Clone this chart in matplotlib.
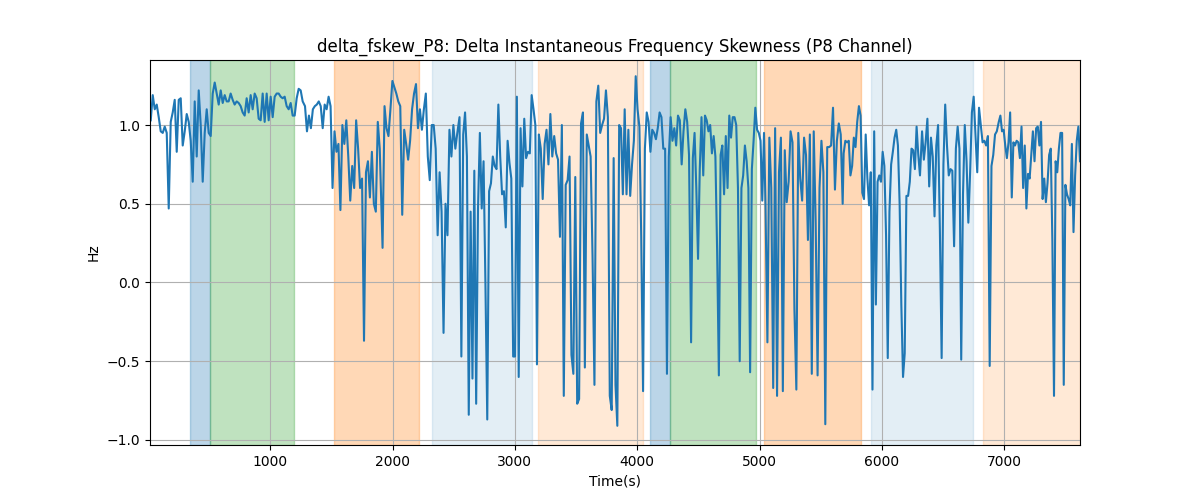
import matplotlib
matplotlib.use("Agg")
import matplotlib.pyplot as plt
import numpy as np

# readings of the trace, one list per stretch of the recording
seg_times = [(23, 644), (660, 1265), (1284, 1895), (1918, 2529), (2547, 3167),
             (3180, 3791), (3807, 4423), (4440, 5036), (5048, 5679), (5687, 6311),
             (6328, 6939), (6955, 7619)]

seg1 = [1.03, 1.19, 1.10, 1.13, 1.05, 0.96, 0.95, 0.99, 0.95, 0.47, 1.02, 1.08, 1.16,
        0.83, 1.16, 1.17, 0.87, 0.96, 1.07, 1.02, 0.90, 0.64, 1.15, 0.80, 1.22, 1.00,
        0.64, 0.95, 1.10, 0.95, 0.93, 1.20, 1.27, 1.20, 1.13, 1.22, 1.14, 1.19, 1.15]
seg2 = [1.15, 1.20, 1.16, 1.13, 1.15, 1.14, 1.12, 1.08, 1.06, 1.17, 1.08, 1.19, 1.10,
        1.20, 1.17, 1.04, 1.03, 1.20, 1.02, 1.20, 1.03, 1.18, 1.05, 1.18, 1.20, 1.20,
        1.18, 1.17, 1.18, 1.12, 1.10, 1.14, 1.06, 1.06, 1.17, 1.23, 1.22, 1.15]
seg3 = [1.12, 0.96, 1.06, 0.98, 1.10, 1.12, 1.13, 1.15, 1.12, 0.98, 1.13, 1.10, 1.18,
        1.12, 0.60, 0.96, 0.83, 0.88, 0.46, 1.00, 0.88, 1.03, 0.80, 0.52, 0.74, 0.60,
        1.03, 0.85, 0.60, 0.66, -0.37, 0.70, 0.77, 0.54, 0.83, 0.50, 0.45, 1.02, 0.85]
seg4 = [0.22, 1.12, 0.98, 0.93, 1.10, 1.28, 1.24, 1.20, 1.15, 1.12, 0.43, 0.97, 0.88,
        0.78, 0.90, 1.10, 1.20, 1.26, 0.98, 1.10, 0.97, 1.10, 1.20, 0.80, 0.65, 1.00,
        1.00, 0.85, 0.30, 0.70, 0.45, -0.32, 0.50, 0.30, 0.97, 0.80, 1.00, 0.85, 0.95]
seg5 = [1.05, -0.47, 0.94, 1.08, 0.80, -0.84, 0.45, -0.61, 0.71, -0.77, 0.47, 0.95,
        0.47, 0.77, 0.00, -0.87, 0.58, 0.63, 0.80, 0.74, 0.72, 1.13, 0.80, 0.56, 0.58,
        0.35, 0.90, 0.76, 0.66, -0.47, -0.47, 1.18, -0.60, 0.98, 0.61, 1.04, 0.79, 0.83,
        0.82, 1.19, 1.10, 1.00]
seg6 = [-0.52, 0.94, 0.85, 0.53, 0.88, 0.97, 0.75, 1.07, 0.80, 0.93, 0.82, 0.78, 0.29,
        1.00, -0.72, 0.62, 0.65, 0.80, -0.46, -0.58, 0.67, -0.77, -0.74, 1.01, 1.08,
        -0.54, 0.94, 0.87, 0.80, 0.17, -0.65, 1.15, 1.25, 0.95, 1.00, 1.04, 1.22, 1.05,
        -0.72, -0.81]
seg7 = [0.79, -0.65, -0.91, 1.00, 0.98, 0.56, 1.10, 0.56, 0.97, 0.55, 0.75, 0.90, 1.31,
        1.10, 0.99, 0.29, -0.69, 0.85, 1.08, 1.02, 0.83, 0.97, 0.95, 0.91, 0.98, 1.08,
        1.05, 0.85, 0.85, -0.58, 0.80, 1.05, 0.90, 0.98, 0.87, 1.06, 1.03, 0.75, 0.96,
        1.10, 1.02, 0.81]
seg8 = [-0.38, 0.79, 0.95, 0.60, 0.15, 0.72, 1.05, 0.68, 1.06, 1.03, 0.96, 1.00, 0.82,
        0.93, 0.80, 0.20, -0.59, 0.81, 0.87, 0.56, 0.93, 0.60, 1.06, 0.92, 1.05, 1.05,
        1.00, 0.60, -0.50, 0.60, 0.68, 0.87, 0.77, 0.60, -0.57, 0.72, 0.90, 1.11, 0.97,
        0.95, 0.90, 0.52, 0.95]
seg9 = [0.50, -0.38, 0.92, 0.60, -0.67, 0.98, -0.72, 0.70, 0.92, -0.69, 0.84, 0.51,
        0.64, 0.96, 0.89, -0.17, -0.68, 0.95, 0.66, 0.52, 0.92, 0.81, 0.27, 0.94, -0.58,
        0.96, 0.39, -0.59, 0.60, 0.90, 0.70, -0.90, 0.86, 0.86, 0.87, 1.11, 0.59, 0.90,
        1.01, 0.94, 0.50]
seg10 = [0.82, 0.90, 0.89, 0.90, 0.68, 0.74, 0.92, 0.86, 1.02, 1.12, 1.06, 0.57, 0.53,
         0.94, 0.66, 0.49, 0.70, -0.68, 0.96, -0.14, 0.64, 0.68, 0.64, 0.83, 0.74, 0.30,
         -0.48, 0.45, 0.75, 0.83, 0.92, 0.97, 0.87, 0.50, -0.14, -0.60, -0.45, 0.55,
         0.55, 0.64, 0.85, 0.84, 0.72, 0.99, 0.81, 0.68]
seg11 = [0.96, 0.78, 0.89, 1.04, 0.61, 0.92, 0.80, 0.42, 0.87, 1.00, 0.34, -0.48, 0.75,
         1.13, 0.87, 0.68, 0.72, 0.71, 0.23, 0.85, 0.99, 0.85, -0.49, 0.56, 1.00, 0.77,
         0.38, 0.70, 1.08, 1.18, 0.94, 0.70, 1.11, 1.00, 0.89, 0.90, 0.87, 0.93, -0.53,
         0.74, 0.81, 0.94, 0.96]
seg12 = [1.02, 1.06, 0.96, 0.97, 0.87, 0.79, 0.89, 1.08, 0.54, 0.89, 0.87, 0.90, 0.89,
         0.79, 0.99, 0.60, 0.87, 0.47, 0.69, 0.66, 0.81, 0.96, 0.77, 0.98, 0.99, 0.87,
         1.02, 0.53, 0.66, 0.51, 0.63, 0.81, 0.85, 0.26, -0.72, 0.77, 0.70, 0.85, 0.95,
         0.95, -0.65, 0.62, 0.56, 0.53, 0.49, 0.88, 0.32, 0.68, 0.90, 0.99, 0.77]

segments = [seg1, seg2, seg3, seg4, seg5, seg6, seg7, seg8, seg9, seg10, seg11, seg12]

# shaded stretches: (start, end, colour, alpha)
span_start = [344, 505, 1521, 2320, 3189, 4104, 4268, 5034, 5911, 6829]
span_end = [505, 1192, 2216, 3140, 4045, 4268, 4973, 5829, 6742, 7619]
span_color = ["C0", "C2", "C1", "C0", "C1", "C0", "C2", "C1", "C0", "C1"]
span_alpha = [0.3, 0.3, 0.3, 0.12, 0.17, 0.3, 0.3, 0.3, 0.12, 0.17]

t = np.concatenate([np.linspace(a, b, len(s)) for (a, b), s in zip(seg_times, segments)])
y = np.concatenate(segments)

fig, ax = plt.subplots(figsize=(12, 5), dpi=100)
for s0, s1, c, a in zip(span_start, span_end, span_color, span_alpha):
    ax.axvspan(s0, s1, color=c, alpha=a)
ax.plot(t, y, color="C0")
ax.set_xlim(17, 7619)
ax.set_ylim(-1.032, 1.413)
ax.grid(True)
ax.set_title("delta_fskew_P8: Delta Instantaneous Frequency Skewness (P8 Channel)")
ax.set_xlabel("Time(s)")
ax.set_ylabel("Hz")
fig.savefig("out.png")
